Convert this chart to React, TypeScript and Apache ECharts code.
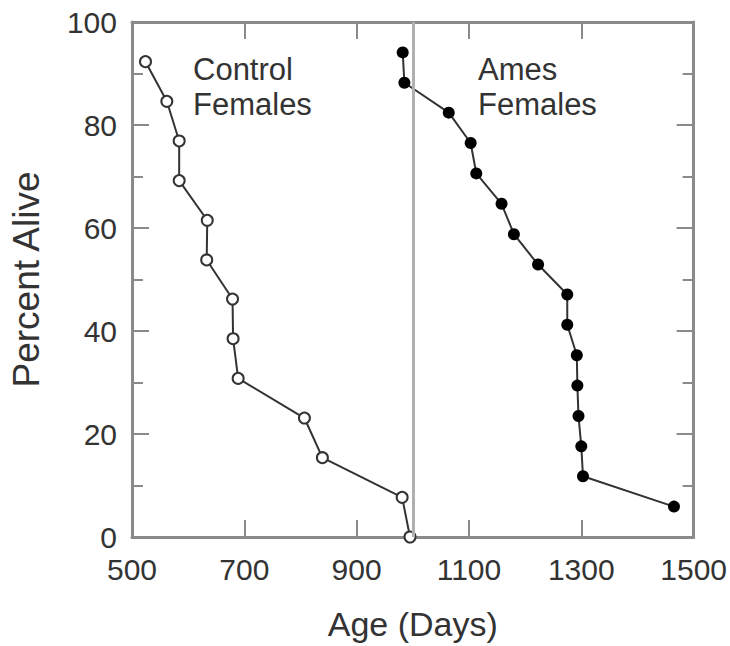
import React, { useEffect, useRef } from "react";
import * as echarts from "echarts";

const controlAge = [524, 562, 584, 584, 634, 633, 679, 680, 689, 807, 839, 981, 995];
const controlAlive = [92.3, 84.6, 76.9, 69.2, 61.5, 53.8, 46.2, 38.5, 30.8, 23.1, 15.4, 7.7, 0];
const amesAge = [982, 985, 1064, 1103, 1113, 1158, 1180, 1223, 1275, 1275, 1292, 1293, 1295, 1300, 1303, 1465];
const amesAlive = [94.1, 88.2, 82.4, 76.5, 70.6, 64.7, 58.8, 52.9, 47.1, 41.2, 35.3, 29.4, 23.5, 17.6, 11.8, 5.9];
const xMin = 500;
const xMax = 1500;
const dividerAge = 1000;
const labels = { control: "Control\nFemales", ames: "Ames\nFemales" };

const FONT = "'Liberation Sans', Arial, Helvetica, sans-serif";

export default function App() {
  const ref = useRef<HTMLDivElement>(null);
  useEffect(() => {
    document.body.style.margin = "0";
    if (!ref.current) return;
    const chart = echarts.init(ref.current, undefined, { renderer: "svg" });
    const off = (v: number) => v - xMin;
    const axisLine = { show: true, onZero: false, lineStyle: { color: "#8a8a8a", width: 3 } };
    const tickStyle = { color: "#8a8a8a", width: 2 };
    const xCommon = {
      type: "value" as const,
      min: 0,
      max: xMax - xMin,
      interval: 200,
      axisLine,
      splitLine: { show: false },
      axisTick: { show: true, inside: true, length: 17, lineStyle: tickStyle },
    };
    const yCommon = {
      type: "value" as const,
      min: 0,
      max: 100,
      interval: 20,
      axisLine,
      splitLine: { show: false },
      axisTick: { show: true, inside: true, length: 17, lineStyle: tickStyle },
      minorTick: { show: true, splitNumber: 2, length: 11, lineStyle: tickStyle },
    };
    chart.setOption({
      animation: false,
      backgroundColor: "#ffffff",
      grid: { left: 132, right: 35, top: 22, bottom: 108 },
      xAxis: [
        {
          ...xCommon,
          position: "bottom",
          name: "Age (Days)",
          nameLocation: "middle",
          nameGap: 70,
          nameTextStyle: { fontFamily: FONT, fontSize: 34, color: "#333" },
          axisLabel: {
            fontFamily: FONT,
            fontSize: 30,
            color: "#333",
            margin: 17,
            formatter: (v: number) => String(v + xMin),
          },
        },
        { ...xCommon, position: "top", axisLabel: { show: false } },
      ],
      yAxis: [
        {
          ...yCommon,
          position: "left",
          name: "Percent Alive",
          nameLocation: "middle",
          nameGap: 87,
          nameTextStyle: { fontFamily: FONT, fontSize: 37, color: "#333" },
          axisLabel: { fontFamily: FONT, fontSize: 30, color: "#333", margin: 15 },
        },
        { ...yCommon, position: "right", axisLabel: { show: false } },
      ],
      graphic: [
        {
          type: "text",
          left: 193,
          top: 52,
          style: { text: labels.control, fontFamily: FONT, fontSize: 31, lineHeight: 35, fill: "#333" },
        },
        {
          type: "text",
          left: 478,
          top: 52,
          style: { text: labels.ames, fontFamily: FONT, fontSize: 31, lineHeight: 35, fill: "#333" },
        },
      ],
      series: [
        {
          type: "line",
          data: controlAge.map((a, i) => [off(a), controlAlive[i]]),
          symbol: "circle",
          symbolSize: 11,
          lineStyle: { color: "#333", width: 2 },
          itemStyle: { color: "#ffffff", borderColor: "#333", borderWidth: 2 },
          markLine: {
            silent: true,
            symbol: "none",
            label: { show: false },
            lineStyle: { color: "#b0b0b0", width: 3, type: "solid" },
            data: [{ xAxis: off(dividerAge) }],
          },
          z: 3,
        },
        {
          type: "line",
          data: amesAge.map((a, i) => [off(a), amesAlive[i]]),
          symbol: "circle",
          symbolSize: 12,
          lineStyle: { color: "#333", width: 2 },
          itemStyle: { color: "#000000", borderColor: "#000", borderWidth: 0 },
          z: 4,
        },
      ],
    });
    return () => chart.dispose();
  }, []);
  return <div ref={ref} style={{ width: 730, height: 646 }} />;
}
